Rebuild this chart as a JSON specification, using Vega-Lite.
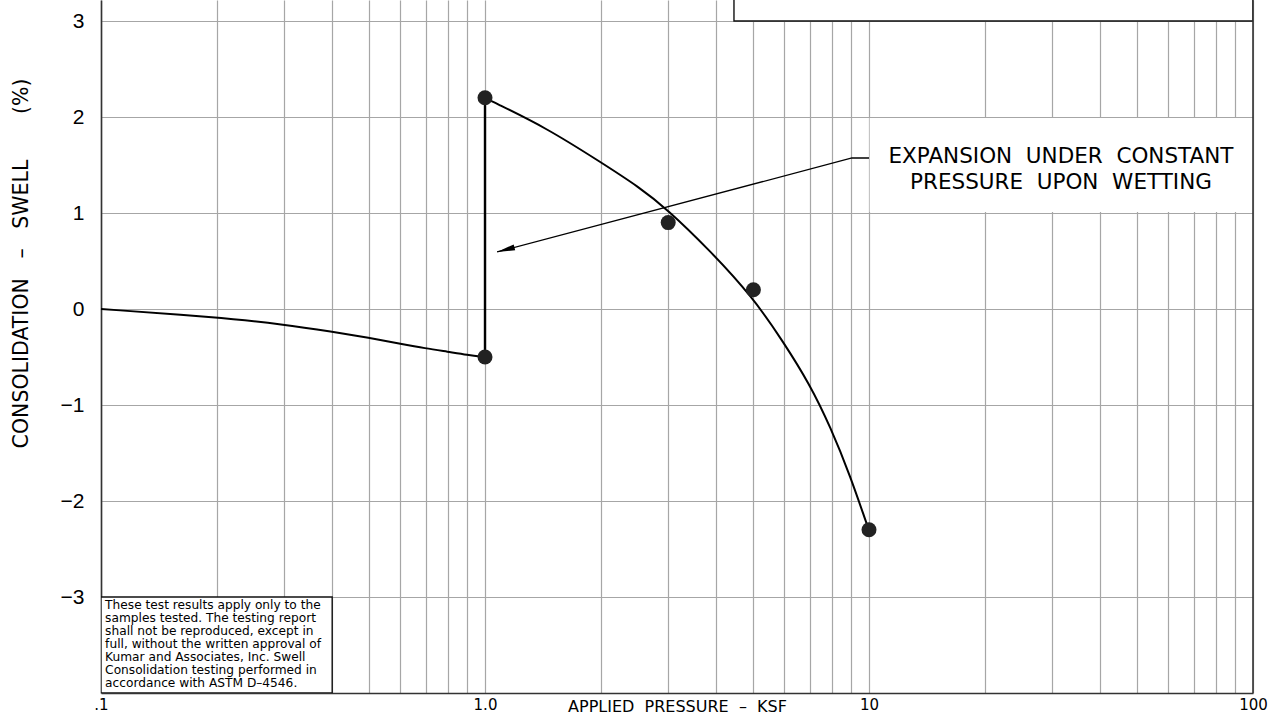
{
  "$schema": "https://vega.github.io/schema/vega-lite/v6.json",
  "autosize": {"type": "none"},
  "width": 1152,
  "height": 693,
  "padding": {"left": 101, "top": 0, "right": 24, "bottom": 24},
  "background": "white",
  "config": {
    "view": {"stroke": null},
    "font": "DejaVu Sans"
  },
  "datasets": {
    "curve1": [
      {"p": 0.1, "v": 0.0},
      {"p": 0.2, "v": -0.086},
      {"p": 0.3, "v": -0.16},
      {"p": 0.4, "v": -0.236},
      {"p": 0.5, "v": -0.3},
      {"p": 0.6, "v": -0.36},
      {"p": 0.7, "v": -0.41},
      {"p": 0.8, "v": -0.445},
      {"p": 0.9, "v": -0.478},
      {"p": 1.0, "v": -0.5}
    ],
    "curve2": [
      {"p": 1.0, "v": 2.2},
      {"p": 1.045, "v": 2.16},
      {"p": 1.44, "v": 1.89},
      {"p": 2.0, "v": 1.53},
      {"p": 2.52, "v": 1.27},
      {"p": 2.98, "v": 1.04},
      {"p": 3.83, "v": 0.62},
      {"p": 4.97, "v": 0.128},
      {"p": 6.0, "v": -0.35},
      {"p": 7.0, "v": -0.78},
      {"p": 7.94, "v": -1.23},
      {"p": 8.96, "v": -1.75},
      {"p": 9.9, "v": -2.26},
      {"p": 10.0, "v": -2.3}
    ],
    "vert": [
      {"p": 1.0, "v": -0.5},
      {"p": 1.0, "v": 2.2}
    ],
    "pts": [
      {"p": 1.0, "v": 2.2},
      {"p": 1.0, "v": -0.5},
      {"p": 3.0, "v": 0.9},
      {"p": 5.0, "v": 0.2},
      {"p": 10.0, "v": -2.3}
    ],
    "leader": [
      {"p": 1.075, "v": 0.594},
      {"p": 9.03, "v": 1.573},
      {"p": 10.0, "v": 1.573}
    ],
    "boxes": [
      {"x1": 10.04, "x2": 99.9, "y1": 1.01, "y2": 1.99, "kind": "note"},
      {"x1": 0.1, "x2": 0.4, "y1": -4.0, "y2": -3.0, "kind": "disc"},
      {"x1": 4.45, "x2": 100, "y1": 3.0, "y2": 3.3, "kind": "legend"}
    ]
  },
  "layer": [
    {
      "data": {"values": [{"a": 1}]},
      "mark": {"type": "point", "opacity": 0},
      "encoding": {
        "x": {
          "datum": 1,
          "type": "quantitative",
          "scale": {"type": "log", "domain": [0.1, 100], "nice": false},
          "axis": {
            "values": [0.1, 0.2, 0.3, 0.4, 0.5, 0.6, 0.7, 0.8, 0.9, 1, 2, 3, 4, 5, 6, 7, 8, 9, 10, 20, 30, 40, 50, 60, 70, 80, 90, 100],
            "labelExpr": "datum.value == 0.1 ? '.1' : datum.value == 1 ? '1.0' : datum.value == 10 ? '10' : datum.value == 100 ? '100' : ''",
            "grid": true,
            "gridColor": "#a6a6a6",
            "gridWidth": 1.2,
            "gridOpacity": 1,
            "ticks": false,
            "domain": true,
            "domainColor": "#333333",
            "domainWidth": 1.6,
            "labelFont": "DejaVu Sans",
            "labelFontSize": 15,
            "labelColor": "#000000",
            "labelPadding": 4,
            "labelAngle": 0,
            "labelAlign": "center",
            "labelOverlap": false,
            "labelFlush": false,
            "title": "APPLIED\u00a0\u00a0PRESSURE\u00a0\u00a0–\u00a0\u00a0KSF",
            "titleFont": "DejaVu Sans",
            "titleFontSize": 16,
            "titleFontWeight": "normal",
            "titleColor": "#000000",
            "titleX": 576,
            "titleY": 5,
            "titleAlign": "center",
            "titleBaseline": "top"
          }
        },
        "y": {
          "datum": 0,
          "type": "quantitative",
          "scale": {"domain": [-4, 3.21875], "nice": false, "zero": false},
          "axis": {
            "values": [-3, -2, -1, 0, 1, 2, 3],
            "format": "d",
            "grid": true,
            "gridColor": "#a6a6a6",
            "gridWidth": 1.2,
            "gridOpacity": 1,
            "ticks": false,
            "domain": true,
            "domainColor": "#333333",
            "domainWidth": 1.6,
            "labelFont": "Liberation Sans",
            "labelFontSize": 21,
            "labelColor": "#000000",
            "labelPadding": 17,
            "labelFlush": false,
            "labelOverlap": false,
            "title": "CONSOLIDATION\u00a0\u00a0\u00a0–\u00a0\u00a0\u00a0SWELL\u00a0\u00a0\u00a0\u00a0\u00a0\u00a0\u00a0(%)",
            "titleFont": "DejaVu Sans",
            "titleFontSize": 20.5,
            "titleFontWeight": "normal",
            "titleColor": "#000000",
            "titleAngle": -90,
            "titleX": -80,
            "titleY": 263,
            "titleAlign": "center",
            "titleBaseline": "middle"
          }
        }
      }
    },
    {
      "data": {"name": "boxes"},
      "transform": [{"filter": "datum.kind == 'note'"}],
      "mark": {"type": "rect", "fill": "white", "strokeWidth": 0},
      "encoding": {
        "x": {"field": "x1", "type": "quantitative"},
        "x2": {"field": "x2"},
        "y": {"field": "y1", "type": "quantitative"},
        "y2": {"field": "y2"}
      }
    },
    {
      "data": {"name": "boxes"},
      "transform": [{"filter": "datum.kind != 'note'"}],
      "mark": {"type": "rect", "fill": "white", "stroke": "#111111", "strokeWidth": 1.4, "clip": true},
      "encoding": {
        "x": {"field": "x1", "type": "quantitative"},
        "x2": {"field": "x2"},
        "y": {"field": "y1", "type": "quantitative"},
        "y2": {"field": "y2"}
      }
    },
    {
      "data": {"values": [{"p": 100, "a": -4, "b": 3.21875}]},
      "mark": {"type": "rule", "color": "#333333", "strokeWidth": 1.6},
      "encoding": {
        "x": {"field": "p", "type": "quantitative"},
        "y": {"field": "a", "type": "quantitative"},
        "y2": {"field": "b"}
      }
    },
    {
      "data": {"name": "curve1"},
      "mark": {"type": "line", "color": "#000000", "strokeWidth": 2, "interpolate": "basis"},
      "encoding": {
        "x": {"field": "p", "type": "quantitative"},
        "y": {"field": "v", "type": "quantitative"}
      }
    },
    {
      "data": {"name": "curve2"},
      "mark": {"type": "line", "color": "#000000", "strokeWidth": 2, "interpolate": "basis"},
      "encoding": {
        "x": {"field": "p", "type": "quantitative"},
        "y": {"field": "v", "type": "quantitative"}
      }
    },
    {
      "data": {"name": "vert"},
      "mark": {"type": "line", "color": "#000000", "strokeWidth": 2.4},
      "encoding": {
        "x": {"field": "p", "type": "quantitative"},
        "y": {"field": "v", "type": "quantitative"}
      }
    },
    {
      "data": {"name": "leader"},
      "mark": {"type": "line", "color": "#000000", "strokeWidth": 1.3},
      "encoding": {
        "x": {"field": "p", "type": "quantitative"},
        "y": {"field": "v", "type": "quantitative"}
      }
    },
    {
      "data": {"values": [{"p": 1.075, "v": 0.594}]},
      "mark": {"type": "point", "shape": "M0,0L3.6,-0.6L3.6,0.6Z", "size": 100, "filled": true, "color": "#000000", "opacity": 1, "angle": 345},
      "encoding": {
        "x": {"field": "p", "type": "quantitative"},
        "y": {"field": "v", "type": "quantitative"}
      }
    },
    {
      "data": {"name": "pts"},
      "mark": {"type": "point", "shape": "circle", "filled": true, "size": 225, "color": "#222222", "opacity": 1},
      "encoding": {
        "x": {"field": "p", "type": "quantitative"},
        "y": {"field": "v", "type": "quantitative"}
      }
    },
    {
      "data": {"values": [
        {"p": 31.62, "v": 1.584, "t": "EXPANSION\u00a0\u00a0UNDER\u00a0\u00a0CONSTANT"},
        {"p": 31.62, "v": 1.313, "t": "PRESSURE\u00a0\u00a0UPON\u00a0\u00a0WETTING"}
      ]},
      "mark": {"type": "text", "font": "DejaVu Sans", "fontSize": 21.5, "align": "center", "baseline": "middle", "color": "#000000"},
      "encoding": {
        "x": {"field": "p", "type": "quantitative"},
        "y": {"field": "v", "type": "quantitative"},
        "text": {"field": "t"}
      }
    },
    {
      "data": {"values": [
        {"p": 0.1025, "v": -3.026, "t": ["These test results apply only to the", "samples tested. The testing report", "shall not be reproduced, except in", "full, without the written approval of", "Kumar and Associates, Inc. Swell", "Consolidation testing performed in", "accordance with ASTM D–4546."]}
      ]},
      "mark": {"type": "text", "font": "DejaVu Sans", "fontSize": 12.2, "lineHeight": 12.9, "align": "left", "baseline": "top", "color": "#000000"},
      "encoding": {
        "x": {"field": "p", "type": "quantitative"},
        "y": {"field": "v", "type": "quantitative"},
        "text": {"field": "t"}
      }
    }
  ]
}
